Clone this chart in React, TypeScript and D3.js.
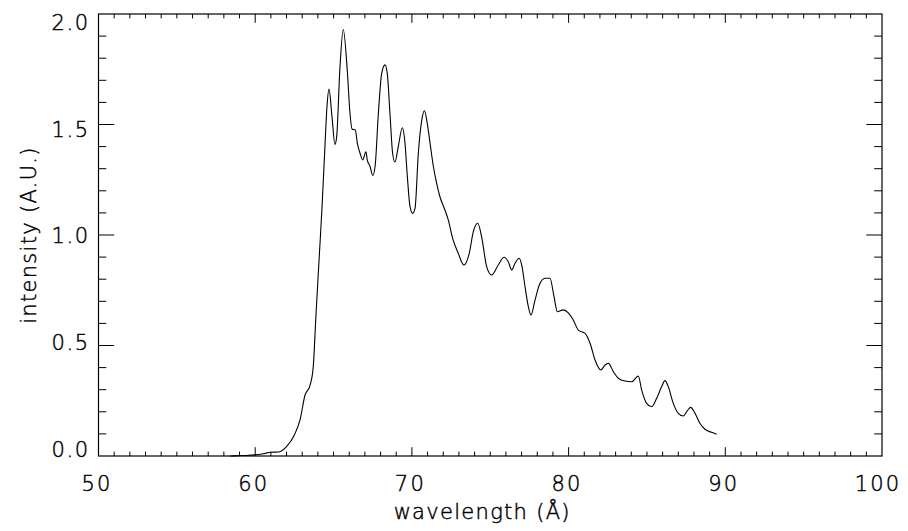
import React from "react";
import * as d3 from "d3";

const wavelength = [
  58.4, 59.2, 60.0, 60.5, 61.0, 61.5, 62.0, 62.5, 62.86, 63.18, 63.5, 63.7, 63.88, 64.07, 64.26, 64.45, 64.58, 64.71,
  64.9, 65.09, 65.2, 65.41, 65.62, 65.88, 66.05, 66.18, 66.39, 66.52, 66.69, 66.86, 67.07, 67.15, 67.33,
  67.5, 67.65, 67.86, 68.07, 68.28, 68.43, 68.6, 68.77, 68.92, 69.13, 69.39, 69.56, 69.71, 69.88, 70.05,
  70.2, 70.41, 70.63, 70.8, 70.98, 71.15, 71.37, 71.58, 71.79, 72.11, 72.32, 72.6, 72.96, 73.32, 73.66,
  73.92, 74.2, 74.45, 74.77, 75.09, 75.51, 75.88, 76.15, 76.37, 76.58, 76.84, 77.01, 77.22, 77.43, 77.6,
  77.86, 78.13, 78.5, 78.81, 79.07, 79.28, 79.66, 79.98, 80.3, 80.62, 81.05, 81.37, 81.69, 82.05, 82.33,
  82.54, 82.86, 83.17, 83.6, 84.03, 84.45, 84.66, 84.98, 85.3, 85.62, 85.94, 86.15, 86.36, 86.68, 87.0,
  87.32, 87.58, 87.79, 88.07, 88.38, 88.7, 89.13, 89.45,
];
const intensity = [
  0.0, 0.002, 0.005, 0.01, 0.017, 0.018, 0.042, 0.095, 0.163, 0.276, 0.32, 0.4, 0.64, 0.88, 1.12, 1.4, 1.58, 1.66,
  1.535, 1.41, 1.445, 1.76, 1.93, 1.74, 1.55, 1.48, 1.475, 1.415, 1.37, 1.34, 1.377, 1.34, 1.31,
  1.27, 1.31, 1.55, 1.73, 1.77, 1.73, 1.55, 1.37, 1.33, 1.4, 1.485, 1.415, 1.264, 1.128, 1.098,
  1.12, 1.37, 1.52, 1.562, 1.505, 1.42, 1.31, 1.234, 1.173, 1.113, 1.068, 0.985, 0.917, 0.864, 0.917,
  1.015, 1.053, 0.992, 0.857, 0.819, 0.864, 0.899, 0.879, 0.842, 0.872, 0.895, 0.864, 0.766, 0.676, 0.638,
  0.706, 0.774, 0.804, 0.804, 0.721, 0.653, 0.661, 0.648, 0.615, 0.57, 0.555, 0.51, 0.434, 0.389, 0.412,
  0.419, 0.381, 0.352, 0.339, 0.336, 0.362, 0.299, 0.238, 0.223, 0.261, 0.314, 0.341, 0.314, 0.238, 0.193,
  0.181, 0.205, 0.22, 0.193, 0.148, 0.121, 0.107, 0.098,
];
const xTickLabels = ["50", "60", "70", "80", "90", "100"];
const yTickLabels = ["0.0", "0.5", "1.0", "1.5", "2.0"];
const xTitle = "wavelength (Å)";
const yTitle = "intensity (A.U.)";

const W = 908, H = 531;
const L = 98.5, R = 882, T = 14, B = 456;
const FONT = "'DejaVu Sans', sans-serif";

export default function App() {
  const x = d3.scaleLinear().domain([50, 100]).range([L, R]);
  const y = d3.scaleLinear().domain([0, 2]).range([B, T]);
  const yLab = d3.scaleLinear().domain([0, 2]).range([449, 22.5]);

  const pts = wavelength.map((w, i) => [w, intensity[i]] as [number, number]);
  const line = d3
    .line<[number, number]>()
    .x((d) => x(d[0]))
    .y((d) => y(d[1]))
    .curve(d3.curveMonotoneX);

  const xMinor = d3.range(51, 100, 1).filter((v) => v % 10 !== 0);
  const xMajor = d3.range(60, 100, 10);
  const yMinor = d3.range(1, 20, 1).filter((v) => v % 5 !== 0).map((v) => v / 10);
  const yMajor = [0.5, 1.0, 1.5];

  const xMajLen = 8.8, xMinLen = 4.4;
  const yMajLen = 15.7, yMinLen = 7.8;
  const tickStyle = { stroke: "#000", strokeWidth: 1 };
  const textProps = {
    fontFamily: FONT,
    fontSize: 21,
    fontWeight: 200,
    fill: "#000",
    stroke: "#000",
    strokeWidth: 0.45,
  };

  return (
    <svg
      width={W}
      height={H}
      style={{ position: "absolute", left: 0, top: 0, background: "#fff" }}
    >
      <rect x={0} y={0} width={W} height={H} fill="#fff" />
      {xMinor.map((v) => (
        <g key={"xm" + v}>
          <line x1={x(v)} x2={x(v)} y1={B} y2={B - xMinLen} {...tickStyle} />
          <line x1={x(v)} x2={x(v)} y1={T} y2={T + xMinLen} {...tickStyle} />
        </g>
      ))}
      {xMajor.map((v) => (
        <g key={"xM" + v}>
          <line x1={x(v)} x2={x(v)} y1={B} y2={B - xMajLen} {...tickStyle} />
          <line x1={x(v)} x2={x(v)} y1={T} y2={T + xMajLen} {...tickStyle} />
        </g>
      ))}
      {yMinor.map((v) => (
        <g key={"ym" + v}>
          <line x1={L} x2={L + yMinLen} y1={y(v)} y2={y(v)} {...tickStyle} />
          <line x1={R} x2={R - yMinLen} y1={y(v)} y2={y(v)} {...tickStyle} />
        </g>
      ))}
      {yMajor.map((v) => (
        <g key={"yM" + v}>
          <line x1={L} x2={L + yMajLen} y1={y(v)} y2={y(v)} {...tickStyle} />
          <line x1={R} x2={R - yMajLen} y1={y(v)} y2={y(v)} {...tickStyle} />
        </g>
      ))}
      <rect x={L} y={T} width={R - L} height={B - T} fill="none" stroke="#000" strokeWidth={1.2} />
      <path d={line(pts) || ""} fill="none" stroke="#000" strokeWidth={1.1} strokeLinejoin="round" />
      {xTickLabels.map((t) => (
        <text
          key={"xl" + t}
          x={Math.min(x(+t) - 1.5, 878)}
          y={491}
          textAnchor="middle"
          letterSpacing={2.2}
          {...textProps}
        >
          {t}
        </text>
      ))}
      {yTickLabels.map((t) => (
        <text
          key={"yl" + t}
          x={89.5}
          y={yLab(+t)}
          dy="0.36em"
          textAnchor="end"
          letterSpacing={1.5}
          {...textProps}
        >
          {t}
        </text>
      ))}
      <text
        x={(L + R) / 2 - 8}
        y={519}
        textAnchor="middle"
        letterSpacing={1.3}
        {...textProps}
      >
        {xTitle}
      </text>
      <text
        transform={`translate(36, ${(T + B) / 2}) rotate(-90)`}
        textAnchor="middle"
        letterSpacing={1.3}
        {...textProps}
      >
        {yTitle}
      </text>
    </svg>
  );
}
